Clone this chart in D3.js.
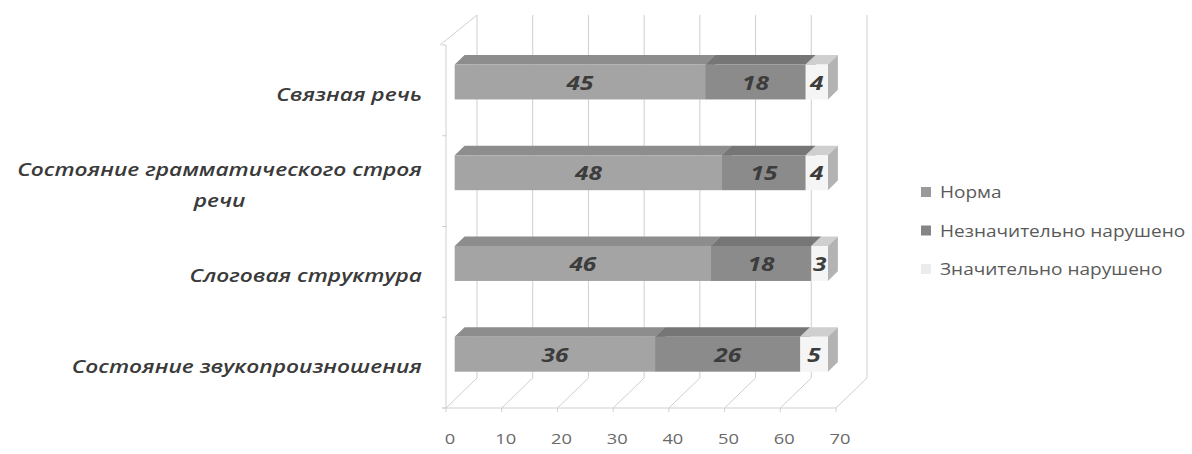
<!DOCTYPE html>
<html>
<head>
<meta charset="utf-8">
<script src="https://cdn.jsdelivr.net/npm/d3@7"></script>
<style>
  html, body { margin: 0; padding: 0; background: #fff; }
  svg { display: block; }
</style>
</head>
<body>
<svg id="chart" width="1192" height="454"></svg>
<script>
// ---- data ----
const categories = ["Связная речь", "Состояние грамматического строя речи", "Слоговая структура", "Состояние звукопроизношения"];
const seriesNames = ["Норма", "Незначительно нарушено", "Значительно нарушено"];
const normaValues = [45, 48, 46, 36];
const slightValues = [18, 15, 18, 26];
const severeValues = [4, 4, 3, 5];
const xTickValues = [0, 10, 20, 30, 40, 50, 60, 70];

// ---- styling ----
const faceColors = {
  "Норма": { front: "#a4a4a4", top: "#8d8d8d", side: "#8a8a8a", legend: "#9a9a9a" },
  "Незначительно нарушено": { front: "#8b8b8b", top: "#767676", side: "#7a7a7a", legend: "#858585" },
  "Значительно нарушено": { front: "#f5f5f5", top: "#cfcfcf", side: "#b3b3b3", legend: "#ececec" }
};
const TEXT_SX = 1.22;       // horizontal stretch of the scanned text
const DX = 31, DY = -30;    // full depth offset of the 3D box
const D1 = 0.28, D2 = 0.60; // bar depth range

const svg = d3.select("#chart");

const x = d3.scaleLinear().domain([0, 70]).range([446, 836]);
const y = d3.scaleBand().domain(categories).range([45, 408]).paddingInner(0.615).paddingOuter(0.3075);

const P = (v, depth, yy) => [x(v) + DX * depth, yy + DY * depth];

const rows = categories.map((c, i) => {
  const vals = [normaValues[i], slightValues[i], severeValues[i]];
  let acc = 0;
  return { cat: c, segs: vals.map((v, k) => { const s = { name: seriesNames[k], v, x0: acc, x1: acc + v }; acc += v; return s; }) };
});

const gridColor = "#cfcfcf";
const grid = svg.append("g").attr("stroke", gridColor).attr("stroke-width", 1).attr("fill", "none");
const yTop = 45, yBot = 408;

// back wall vertical gridlines
xTickValues.forEach(t => {
  const a = P(t, 1, yBot), b = P(t, 1, yTop);
  grid.append("line").attr("x1", a[0]).attr("y1", a[1]).attr("x2", b[0]).attr("y2", b[1]);
});
// floor diagonal gridlines
xTickValues.forEach(t => {
  const a = P(t, 0, yBot), b = P(t, 1, yBot);
  grid.append("line").attr("x1", a[0]).attr("y1", a[1]).attr("x2", b[0]).attr("y2", b[1]);
  grid.append("line").attr("x1", a[0]).attr("y1", a[1]).attr("x2", a[0]).attr("y2", a[1] + 4);
});
// floor front edge
{
  const a = P(0, 0, yBot), b = P(70, 0, yBot);
  grid.append("line").attr("x1", a[0] - 4).attr("y1", a[1]).attr("x2", b[0]).attr("y2", b[1]);
}
// left wall front edge + top diagonal
{
  const a = P(0, 0, yBot), b = P(0, 0, yTop), c = P(0, 1, yTop);
  grid.append("line").attr("x1", a[0]).attr("y1", a[1]).attr("x2", b[0]).attr("y2", b[1]);
  grid.append("line").attr("x1", b[0] - 6).attr("y1", b[1]).attr("x2", c[0]).attr("y2", c[1]);
}
// category ticks on left wall
const step = y.step();
d3.range(categories.length + 1).forEach(i => {
  const yy = yTop + i * step;
  grid.append("line").attr("x1", x(0) - 4).attr("y1", yy).attr("x2", x(0)).attr("y2", yy);
});

// bars
const bars = svg.append("g");
rows.forEach(r => {
  const yb = y(r.cat), bw = y.bandwidth();
  const g = bars.append("g");
  r.segs.forEach(s => {
    const col = faceColors[s.name];
    const fl = P(s.x0, D1, yb), fr = P(s.x1, D1, yb);
    const bl = P(s.x0, D2, yb), br = P(s.x1, D2, yb);
    // top
    g.append("polygon").attr("points", [fl, fr, br, bl].map(p => p.join(",")).join(" ")).attr("fill", col.top);
    // side
    const frb = P(s.x1, D1, yb + bw), brb = P(s.x1, D2, yb + bw);
    g.append("polygon").attr("points", [fr, br, brb, frb].map(p => p.join(",")).join(" ")).attr("fill", col.side);
    // front
    g.append("rect").attr("x", fl[0]).attr("y", fl[1]).attr("width", fr[0] - fl[0]).attr("height", bw).attr("fill", col.front);
    // value label
    g.append("text")
      .attr("transform", `translate(${(fl[0] + fr[0]) / 2},${fl[1] + bw / 2}) scale(${TEXT_SX},1)`)
      .attr("text-anchor", "middle").attr("dominant-baseline", "central")
      .attr("font-family", "'Open Sans', sans-serif").attr("font-style", "italic").attr("font-weight", 700)
      .attr("font-size", 20).attr("fill", "#3c3c3c").text(s.v);
  });
});

// x tick labels
svg.append("g").selectAll("text").data(xTickValues).join("text")
  .attr("transform", d => `translate(${x(d) + 4},444) scale(${TEXT_SX},1)`)
  .attr("text-anchor", "middle")
  .attr("font-family", "'Open Sans', sans-serif").attr("font-size", 15).attr("fill", "#6a6a6a")
  .text(d => d);

// category labels (wrap long ones, lines centered, block right-aligned)
function wrap(str, maxChars) {
  const words = str.split(" "); const lines = []; let cur = "";
  words.forEach(w => { const t = cur ? cur + " " + w : w; if (t.length > maxChars && cur) { lines.push(cur); cur = w; } else cur = t; });
  lines.push(cur); return lines;
}
const labelRight = 422, lineH = 31;
const catG = svg.append("g");
categories.forEach(c => {
  const lines = wrap(c, 32);
  const g = catG.append("g");
  const cy = y(c) + y.bandwidth() / 2 + 3;
  const texts = lines.map((ln, i) => g.append("text")
    .attr("font-family", "'Open Sans', sans-serif").attr("font-style", "italic").attr("font-weight", 600)
    .attr("font-size", 18.6).attr("fill", "#3a3a3a").attr("text-anchor", "middle").attr("dominant-baseline", "central")
    .text(ln));
  const widths = texts.map(t => t.node().getComputedTextLength() * TEXT_SX);
  const maxW = d3.max(widths);
  const cx = labelRight - maxW / 2;
  texts.forEach((t, i) => {
    const ly = cy + (i - (lines.length - 1) / 2) * lineH;
    t.attr("transform", `translate(${cx},${ly}) scale(${TEXT_SX},1)`);
  });
});

// legend
const legend = svg.append("g");
seriesNames.forEach((n, i) => {
  const ly = 192 + i * 38.5;
  legend.append("rect").attr("x", 921).attr("y", ly - 5).attr("width", 10).attr("height", 10).attr("fill", faceColors[n].legend);
  legend.append("text").attr("transform", `translate(940,${ly}) scale(${TEXT_SX},1)`)
    .attr("dominant-baseline", "central")
    .attr("font-family", "'Open Sans', sans-serif").attr("font-size", 15.6).attr("fill", "#5a5a5a").text(n);
});
</script>
</body>
</html>
